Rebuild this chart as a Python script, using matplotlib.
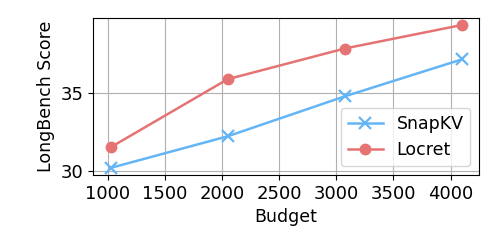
import matplotlib
matplotlib.use("Agg")
import matplotlib.pyplot as plt

budgets = [1024, 2048, 3072, 4096]
snapkv = [30.22, 32.24, 34.79, 37.15]
locret = [31.54, 35.89, 37.85, 39.35]

plt.rcParams['font.size'] = 13

fig, ax = plt.subplots(figsize=(4.98, 2.49), dpi=100)
ax.plot(budgets, snapkv, marker="x", color="#64B5F6", linewidth=1.8,
        markersize=8, markeredgewidth=1.6, label="SnapKV")
ax.plot(budgets, locret, marker="o", color="#E57373", linewidth=1.8,
        markersize=7.5, label="Locret")
ax.set_yticks([30, 35])
ax.set_xticks([1000, 1500, 2000, 2500, 3000, 3500, 4000])
ax.grid(True)
ax.set_xlabel("Budget", fontsize=12.5)
ax.set_ylabel("LongBench Score", fontsize=12.5)
ax.legend(loc="lower right", fontsize=12.5)

fig.subplots_adjust(left=0.187, right=0.962, top=0.928, bottom=0.297)
fig.savefig("out.png", dpi=100)
